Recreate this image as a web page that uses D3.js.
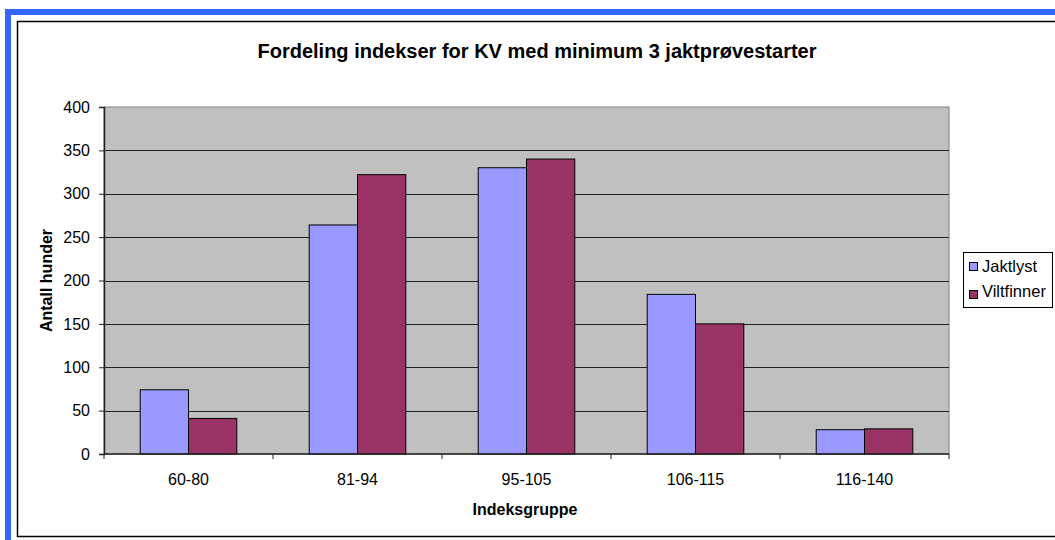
<!DOCTYPE html>
<html>
<head>
<meta charset="utf-8">
<script src="https://cdn.jsdelivr.net/npm/d3@7"></script>
<style>
  body { margin: 0; background: #fff; }
  text { font-family: "Liberation Sans", Arial, sans-serif; fill: #000; }
</style>
</head>
<body>
<svg id="chart" width="1055" height="540"></svg>
<script>
var categories = ["60-80", "81-94", "95-105", "106-115", "116-140"];
var seriesNames = ["Jaktlyst", "Viltfinner"];
var jaktlyst = [74, 264, 330, 184, 28];
var viltfinner = [41, 322, 340, 150, 29];
var yTicks = [0, 50, 100, 150, 200, 250, 300, 350, 400];
var colors = ["#9999ff", "#993366"];

var plot = {left: 104, top: 107, right: 949, bottom: 454};

var svg = d3.select("#chart");

// outer blue frame and chart border
svg.append("rect")
  .attr("x", 8).attr("y", 12)
  .attr("width", 1100).attr("height", 600)
  .attr("fill", "#fff")
  .attr("stroke", "#3366ff")
  .attr("stroke-width", 6);
svg.append("rect")
  .attr("x", 17.5).attr("y", 21.5)
  .attr("width", 1100).attr("height", 515)
  .attr("fill", "#fff")
  .attr("stroke", "#000")
  .attr("stroke-width", 1.5);

var x = d3.scaleBand().domain(categories).range([plot.left, plot.right]);
var y = d3.scaleLinear().domain([0, 400]).range([plot.bottom, plot.top]);

// plot area
svg.append("rect")
  .attr("x", plot.left).attr("y", plot.top)
  .attr("width", plot.right - plot.left).attr("height", plot.bottom - plot.top)
  .attr("fill", "#c0c0c0")
  .attr("stroke", "#808080")
  .attr("stroke-width", 1);

svg.append("g")
  .selectAll("line")
  .data(yTicks.filter(function(d){ return d > 0 && d < 400; }))
  .enter().append("line")
  .attr("x1", plot.left).attr("x2", plot.right)
  .attr("y1", function(d){ return Math.round(y(d)) + 0.5; })
  .attr("y2", function(d){ return Math.round(y(d)) + 0.5; })
  .attr("stroke", "#222")
  .attr("stroke-width", 1);

// bars
var bw = x.bandwidth() / 3.5;
var data = [jaktlyst, viltfinner];
data.forEach(function(vals, s) {
  svg.append("g")
    .selectAll("rect")
    .data(vals)
    .enter().append("rect")
    .attr("x", function(d, i){ return x(categories[i]) + (x.bandwidth() - 2*bw)/2 + s*bw; })
    .attr("y", function(d){ return y(d); })
    .attr("width", bw)
    .attr("height", function(d){ return plot.bottom - y(d); })
    .attr("fill", colors[s])
    .attr("stroke", "#000")
    .attr("stroke-width", 1);
});

// axes
var yAxis = d3.axisLeft(y).tickValues(yTicks).tickSize(5).tickPadding(9);
var gy = svg.append("g").attr("transform", "translate(" + plot.left + ",0)").call(yAxis);
gy.select(".domain").attr("stroke", "#222").attr("stroke-width", 1.5);
gy.selectAll(".tick line").attr("stroke", "#222");
gy.selectAll("text").style("font-size", "16px").attr("fill", "#000");

var xTickScale = d3.scaleLinear().domain([0, 5]).range([plot.left, plot.right]);
var gx = svg.append("g").attr("transform", "translate(0," + plot.bottom + ")");
gx.append("line")
  .attr("x1", plot.left).attr("x2", plot.right)
  .attr("stroke", "#222").attr("stroke-width", 1.5);
gx.selectAll("line.tk")
  .data(d3.range(6))
  .enter().append("line")
  .attr("class", "tk")
  .attr("x1", function(d){ return xTickScale(d); })
  .attr("x2", function(d){ return xTickScale(d); })
  .attr("y1", 0).attr("y2", 5)
  .attr("stroke", "#222");
gx.selectAll("text")
  .data(categories)
  .enter().append("text")
  .attr("x", function(d){ return x(d) + x.bandwidth()/2; })
  .attr("y", 31)
  .attr("text-anchor", "middle")
  .style("font-size", "16px")
  .text(function(d){ return d; });

// titles
svg.append("text")
  .attr("x", 537).attr("y", 58)
  .attr("text-anchor", "middle")
  .style("font-size", "20px").style("font-weight", "bold")
  .text("Fordeling indekser for KV med minimum 3 jaktprøvestarter");

svg.append("text")
  .attr("x", 525).attr("y", 515)
  .attr("text-anchor", "middle")
  .style("font-size", "16px").style("font-weight", "bold")
  .text("Indeksgruppe");

svg.append("text")
  .attr("transform", "translate(52," + (plot.top + plot.bottom) / 2 + ") rotate(-90)")
  .attr("text-anchor", "middle")
  .style("font-size", "16px").style("font-weight", "bold")
  .text("Antall hunder");

// legend
var lg = svg.append("g").attr("transform", "translate(963,252)");
lg.append("rect")
  .attr("x", 0.5).attr("y", 0.5)
  .attr("width", 89).attr("height", 55)
  .attr("fill", "#fff").attr("stroke", "#000").attr("stroke-width", 1);
seriesNames.forEach(function(n, i) {
  lg.append("rect")
    .attr("x", 6.5).attr("y", 10.5 + i*28)
    .attr("width", 8).attr("height", 8)
    .attr("fill", colors[i]).attr("stroke", "#000");
  lg.append("text")
    .attr("x", 19).attr("y", 20 + i*25)
    .style("font-size", "16.5px")
    .text(n);
});
</script>
</body>
</html>
